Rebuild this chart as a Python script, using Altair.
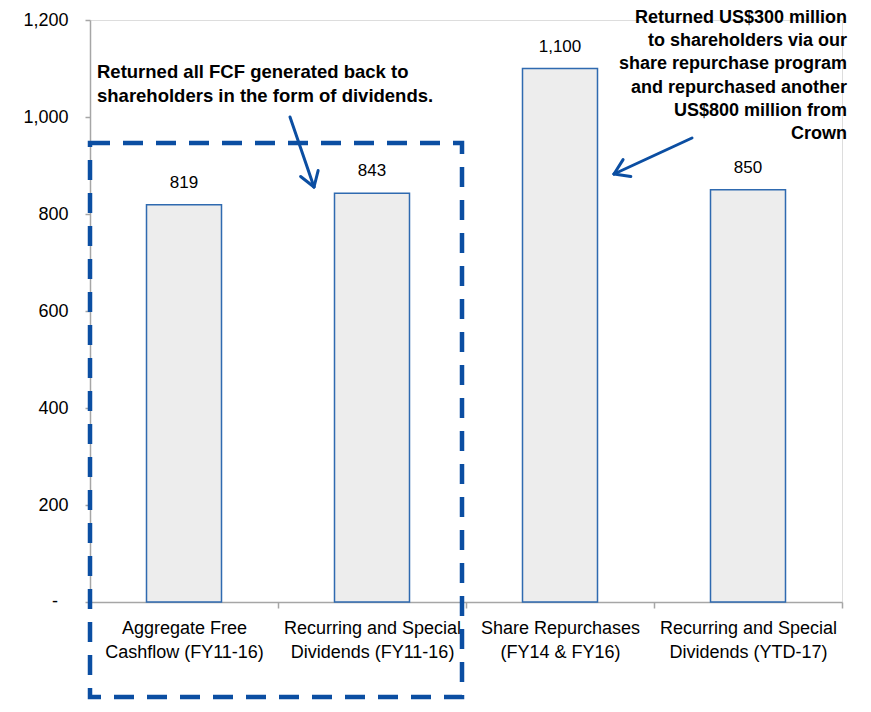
import math
import altair as alt
import pandas as pd

# ---- data ----
categories = [
    "Aggregate Free|Cashflow (FY11-16)",
    "Recurring and Special|Dividends (FY11-16)",
    "Share Repurchases|(FY14 & FY16)",
    "Recurring and Special|Dividends (YTD-17)",
]
values = [819, 843, 1100, 850]
value_labels = ["819", "843", "1,100", "850"]
y_ticks = [0, 200, 400, 600, 800, 1000, 1200]

note_left = "Returned all FCF generated back to|shareholders in the form of dividends."
note_right = ("Returned US$300 million|to shareholders via our|share repurchase program|"
              "and repurchased another|US$800 million from|Crown")

# annotation geometry (pixels inside plot area)
box = {"x": [0], "x2": [372], "y": [123], "y2": [677]}
arrow_from = [(200, 97), (602, 118)]
arrow_to = [(224, 167), (524, 154)]

W, H = 752, 582
FONT = "Liberation Sans"
BLUE = "#0B4EA2"

bars_df = pd.DataFrame({"cat": categories, "value": values, "label": value_labels})

x_enc = alt.X(
    "cat:N", sort=None, title=None,
    scale=alt.Scale(paddingInner=0, paddingOuter=0),
    axis=alt.Axis(
        labelExpr="split(datum.label, '|')", labelAngle=0, tickBand="extent",
        tickSize=6, labelPadding=11, labelLineHeight=24, labelOverlap=False,
        labelFont=FONT, labelFontSize=18, labelColor="#000000",
        domainColor="#A6A6A6", tickColor="#A6A6A6", domainWidth=1.5, tickWidth=1.5,
    ),
)
y_enc = alt.Y(
    "value:Q", title=None,
    scale=alt.Scale(domain=[0, 1200], nice=False),
    axis=alt.Axis(
        values=y_ticks, grid=False, tickSize=5, labelPadding=17,
        labelExpr="datum.value == 0 ? '' : format(datum.value, ',')",
        labelFont=FONT, labelFontSize=18, labelColor="#000000",
        domainColor="#A6A6A6", tickColor="#A6A6A6", domainWidth=1.5, tickWidth=1.5,
    ),
)

bars = alt.Chart(bars_df).mark_bar(
    size=75, fill="#EDEDED", stroke="#2F6AB0", strokeWidth=1.5
).encode(x=x_enc, y=y_enc)

vals = alt.Chart(bars_df).mark_text(
    baseline="alphabetic", dy=-17, font=FONT, fontSize=17, color="#000000"
).encode(x=x_enc, y=y_enc, text="label:N")

zero_df = pd.DataFrame({"value": [0], "t": ["-"]})
zero_lbl = alt.Chart(zero_df).mark_text(
    baseline="middle", align="center", font=FONT, fontSize=18, color="#000000"
).encode(x=alt.value(-35), y=alt.Y("value:Q", scale=alt.Scale(domain=[0, 1200], nice=False)),
         text="t:N")

base = alt.layer(bars, vals, zero_lbl)

rect = alt.Chart(pd.DataFrame(box)).mark_rect(
    fillOpacity=0, stroke=BLUE, strokeWidth=4.5, strokeDash=[20, 13]
).encode(
    x=alt.X("x:Q", scale=None, axis=None),
    x2="x2:Q",
    y=alt.Y("y:Q", scale=None, axis=None),
    y2="y2:Q",
)

segs = []
for (x0, y0), (x1, y1) in zip(arrow_from, arrow_to):
    segs.append((x0, y0, x1, y1))
    ang = math.atan2(y1 - y0, x1 - x0)
    for s in (1, -1):
        a = ang + math.pi + s * math.radians(33)
        segs.append((x1, y1, x1 + 17 * math.cos(a), y1 + 17 * math.sin(a)))
seg_df = pd.DataFrame(segs, columns=["x", "y", "x2", "y2"])

arrows = alt.Chart(seg_df).mark_rule(
    color=BLUE, strokeWidth=3, strokeCap="round"
).encode(
    x=alt.X("x:Q", scale=None, axis=None),
    x2="x2:Q",
    y=alt.Y("y:Q", scale=None, axis=None),
    y2="y2:Q",
)

txt_left = alt.Chart(pd.DataFrame({"x": [7], "y": [58], "t": [note_left]})).mark_text(
    align="left", baseline="alphabetic", lineBreak="|", lineHeight=24,
    font=FONT, fontSize=18.5, fontWeight="bold", color="#000000"
).encode(
    x=alt.X("x:Q", scale=None, axis=None),
    y=alt.Y("y:Q", scale=None, axis=None),
    text="t:N",
)

txt_right = alt.Chart(pd.DataFrame({"x": [757], "y": [3], "t": [note_right]})).mark_text(
    align="right", baseline="alphabetic", lineBreak="|", lineHeight=23.2,
    font=FONT, fontSize=18, fontWeight="bold", color="#000000"
).encode(
    x=alt.X("x:Q", scale=None, axis=None),
    y=alt.Y("y:Q", scale=None, axis=None),
    text="t:N",
)

chart = alt.layer(base, rect, arrows, txt_left, txt_right).resolve_scale(
    x="independent", y="independent"
).properties(
    width=W, height=H,
    autosize=alt.AutoSizeParams(type="none"),
    padding={"left": 82, "top": 12, "right": 20, "bottom": 100},
).configure_view(stroke=None).configure(background="white")

chart.save("out.html", embed_options={"renderer": "svg", "actions": False})
